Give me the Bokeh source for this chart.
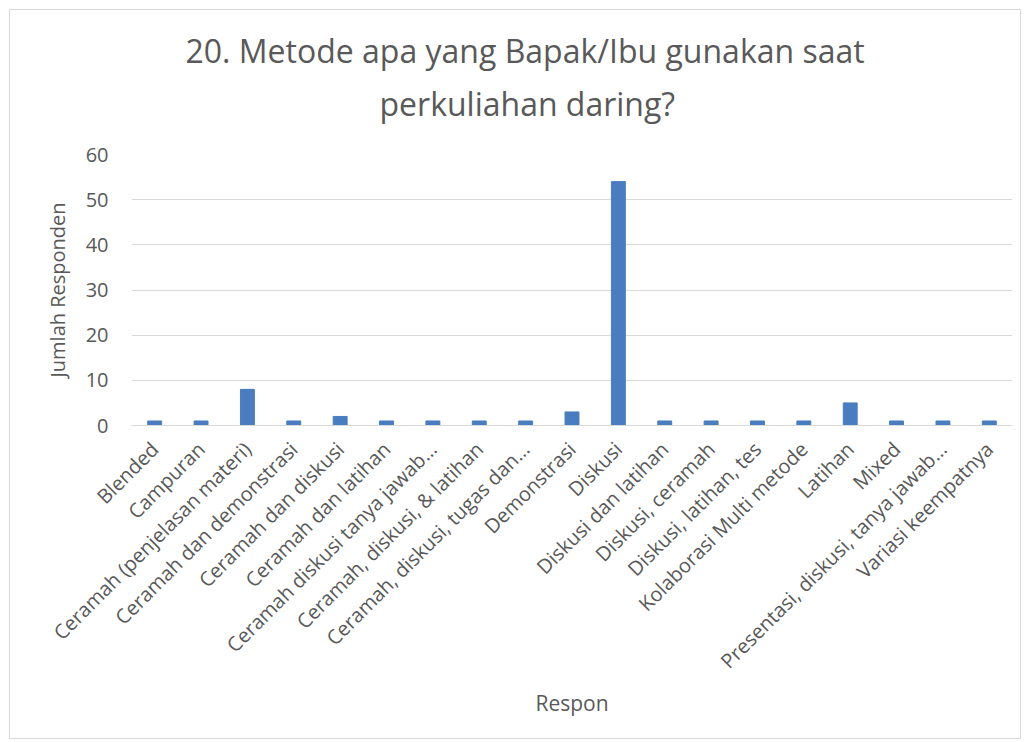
import math
from bokeh.plotting import figure
from bokeh.models import ColumnDataSource, FactorRange, Title
from bokeh.embed import file_html
from bokeh.resources import INLINE

categories = [
    "Blended", "Campuran", "Ceramah (penjelasan materi)", "Ceramah dan demonstrasi",
    "Ceramah dan diskusi", "Ceramah dan latihan", "Ceramah diskusi tanya jawab…",
    "Ceramah, diskusi, & latihan", "Ceramah, diskusi, tugas dan…", "Demonstrasi",
    "Diskusi", "Diskusi dan latihan", "Diskusi, ceramah", "Diskusi, latihan, tes",
    "Kolaborasi Multi metode", "Latihan", "Mixed", "Presentasi, diskusi, tanya jawab…",
    "Variasi keempatnya",
]
values = [1, 1, 8, 1, 2, 1, 1, 1, 1, 3, 54, 1, 1, 1, 1, 5, 1, 1, 1]
title_lines = ["20. Metode apa yang Bapak/Ibu gunakan saat", "perkuliahan daring?"]
y_ticks = [0, 10, 20, 30, 40, 50, 60]

FONT = "Open Sans"
GREY = "#595959"

src = ColumnDataSource(dict(cat=categories, val=values))

W, H = 1012, 730
p = figure(
    x_range=FactorRange(*categories, range_padding=0),
    y_range=(0, 60),
    width=W, height=H,
    output_backend="svg", toolbar_location=None,
    min_border_left=121, min_border_right=10, min_border_top=144, min_border_bottom=315,
)
p.margin = (9, 0, 0, 9)
p.styles = {"border": "1px solid #d9d9d9"}
p.outline_line_color = None
p.background_fill_color = "white"
p.border_fill_color = "white"


def style_title(t):
    t.text_font = FONT
    t.text_font_size = "32px"
    t.text_font_style = "normal"
    t.text_color = GREY
    t.align = "left"
    t.vertical_align = "bottom"


# outer line (figure's own title) and inner line (extra Title nearer the frame)
p.title.text = title_lines[0]
style_title(p.title)
p.title.offset = 54
p.title.standoff = -44

t2 = Title(text=title_lines[1])
style_title(t2)
t2.offset = 248
t2.standoff = 60
p.add_layout(t2, "above")

p.vbar(x="cat", top="val", width=0.3, source=src, color="#4a7dbf")

p.xgrid.grid_line_color = None
p.ygrid.grid_line_color = "#d9d9d9"
p.ygrid.grid_line_width = 1
p.yaxis.ticker = y_ticks
p.yaxis.axis_line_color = None
p.yaxis.major_tick_line_color = None
p.yaxis.minor_tick_line_color = None
p.yaxis.major_label_text_font = FONT
p.yaxis.major_label_text_font_size = "20px"
p.yaxis.major_label_text_color = GREY
p.yaxis.major_label_standoff = 17
p.yaxis.axis_label = "Jumlah Responden"
p.yaxis.axis_label_text_font = FONT
p.yaxis.axis_label_text_font_size = "20px"
p.yaxis.axis_label_text_font_style = "normal"
p.yaxis.axis_label_text_color = GREY
p.yaxis.axis_label_standoff = 12

p.xaxis.axis_line_color = "#d9d9d9"
p.xaxis.major_tick_line_color = None
p.xaxis.minor_tick_line_color = None
p.xaxis.major_label_orientation = math.pi / 4
p.xaxis.major_label_text_font = FONT
p.xaxis.major_label_text_font_size = "20px"
p.xaxis.major_label_text_color = GREY
p.xaxis.major_label_standoff = 14
p.xaxis.axis_label = "Respon"
p.xaxis.axis_label_text_font = FONT
p.xaxis.axis_label_text_font_size = "21px"
p.xaxis.axis_label_text_font_style = "normal"
p.xaxis.axis_label_text_color = GREY
p.xaxis.axis_label_standoff = 2

open("out.html", "w").write(file_html(p, INLINE))
